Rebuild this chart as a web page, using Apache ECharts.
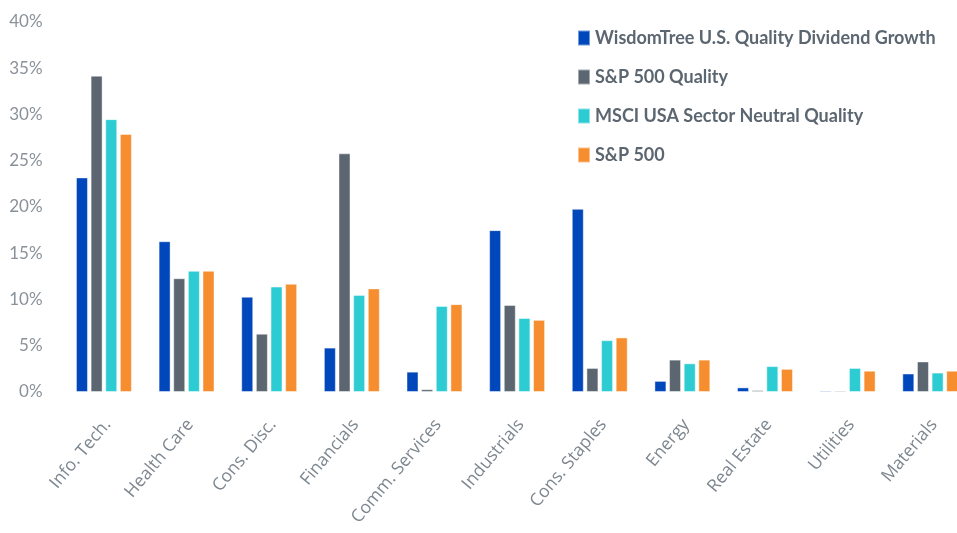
<!DOCTYPE html>
<html>
<head>
<meta charset="utf-8">
<script src="https://cdn.jsdelivr.net/npm/echarts@6/dist/echarts.min.js"></script>
<style>
html,body{margin:0;padding:0;background:#fff;}
#chart{width:957px;height:533px;}
</style>
</head>
<body>
<div id="chart"></div>
<script>
const categories = ['Info. Tech.','Health Care','Cons. Disc.','Financials','Comm. Services','Industrials','Cons. Staples','Energy','Real Estate','Utilities','Materials'];
const seriesNames = ['WisdomTree U.S. Quality Dividend Growth','S&P 500 Quality','MSCI USA Sector Neutral Quality','S&P 500'];
const wisdomTree = [23.2, 16.3, 10.3, 4.8, 2.2, 17.5, 19.8, 1.2, 0.5, 0.15, 2.0];
const spQuality  = [34.2, 12.3, 6.3, 25.8, 0.3, 9.4, 2.6, 3.5, 0.2, 0.15, 3.3];
const msciQuality= [29.5, 13.1, 11.4, 10.5, 9.3, 8.0, 5.6, 3.1, 2.8, 2.6, 2.1];
const sp500      = [27.9, 13.1, 11.7, 11.2, 9.5, 7.8, 5.9, 3.5, 2.5, 2.3, 2.3];
const yTicks = [0, 5, 10, 15, 20, 25, 30, 35, 40];

const colors = ['#0047BB','#5B6670','#2DCCD3','#F68D2E'];
const data = [wisdomTree, spQuality, msciQuality, sp500];
const font = 'Lato, "Open Sans", sans-serif';

const chart = echarts.init(document.getElementById('chart'), null, {renderer:'canvas'});
chart.setOption({
  animation:false,
  color: colors,
  textStyle:{fontFamily:font},
  legend:{
    orient:'vertical',
    left:572, top:24,
    itemWidth:12, itemHeight:15, itemGap:21,
    icon:'rect',
    textStyle:{color:'#5B6670', fontSize:18, fontWeight:'bold', fontFamily:font},
    data: seriesNames
  },
  grid:{left:62.6, width:909, top:22, bottom:141, containLabel:false, outerBoundsMode:'none'},
  xAxis:{
    type:'category',
    data:categories,
    axisLine:{show:false},
    axisTick:{show:false},
    axisLabel:{rotate:50, color:'#7D868F', fontSize:17.5, margin:20, interval:0,
      align:'right', verticalAlign:'top', padding:[0,5,0,0], fontFamily:'"Open Sans", sans-serif'}
  },
  yAxis:{
    type:'value', min:yTicks[0], max:yTicks[yTicks.length-1], interval:5,
    splitLine:{show:false},
    axisLine:{show:false},
    axisTick:{show:false},
    axisLabel:{formatter:'{value}%', color:'#8A9199', fontSize:17, margin:20, fontFamily:font}
  },
  series: seriesNames.map((n,i)=>({
    name:n, type:'bar', data:data[i],
    barWidth:12, barGap:'22%',
    itemStyle:{color:colors[i], borderColor:'rgba(255,255,255,0.45)', borderWidth:1}
  }))
});
</script>
</body>
</html>
